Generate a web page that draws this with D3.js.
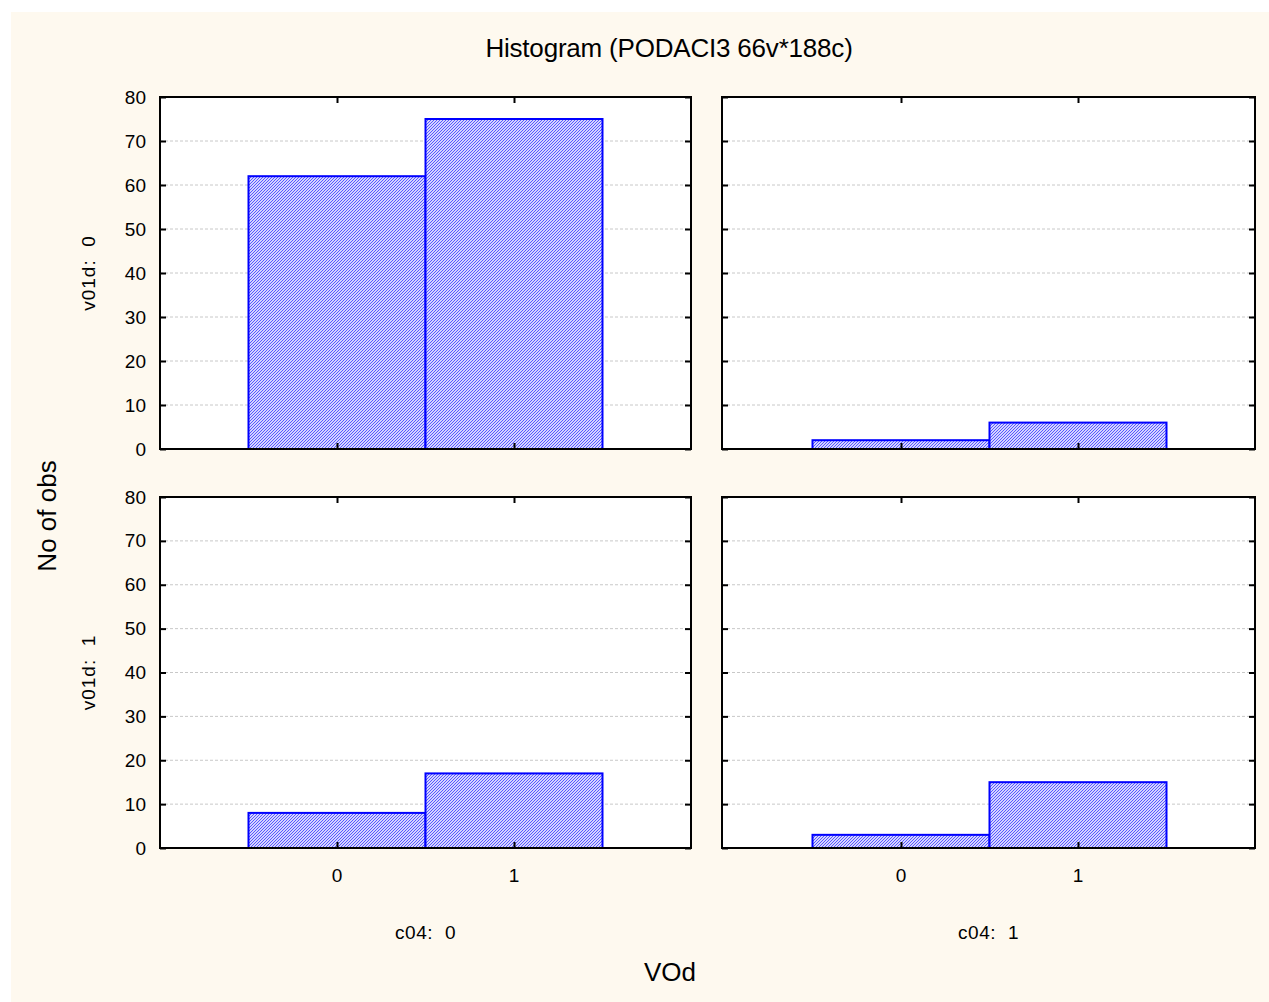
<html>
<head>
<script src="https://cdn.jsdelivr.net/npm/d3@7"></script>
<style>
  body { margin: 0; background: #fff; }
  text { font-family: "Liberation Sans", Arial, sans-serif; fill: #000; white-space: pre; }
</style>
</head>
<body>
<div id="chart"></div>
<script type="text/javascript">
// data
const categories = [0, 1];
const rowLabels = ["v01d:  0", "v01d:  1"];
const colLabels = ["c04:  0", "c04:  1"];
// counts per panel (row = v01d, col = c04), one value per VOd category
const countsRow0Col0 = [62, 75];
const countsRow0Col1 = [2, 6];
const countsRow1Col0 = [8, 17];
const countsRow1Col1 = [3, 15];
const yTicks = [0, 10, 20, 30, 40, 50, 60, 70, 80];

const panels = [
  { row: 0, col: 0, values: countsRow0Col0 },
  { row: 0, col: 1, values: countsRow0Col1 },
  { row: 1, col: 0, values: countsRow1Col0 },
  { row: 1, col: 1, values: countsRow1Col1 }
];

const W = 1269, H = 1002;
const svg = d3.select("#chart").append("svg")
  .attr("width", W).attr("height", H);

// fine pixel hatch for the bars
const defs = svg.append("defs");
const pat = defs.append("pattern")
  .attr("id", "hatch")
  .attr("patternUnits", "userSpaceOnUse")
  .attr("width", 3).attr("height", 3);
pat.append("rect").attr("width", 3).attr("height", 3).attr("fill", "#d4d4ff");
[[2, 0], [1, 1], [0, 2]].forEach(([px, py]) => {
  pat.append("rect").attr("x", px).attr("y", py).attr("width", 1).attr("height", 1)
    .attr("fill", "#5858ff");
});

svg.append("rect")
  .attr("x", 11).attr("y", 12).attr("width", W - 11).attr("height", H - 12)
  .attr("fill", "#fef9ef");

const colX = [160, 722];
const colW = [531, 533];
const rowY = [97, 497];
const rowH = [352, 351];

panels.forEach(p => {
  const x0 = colX[p.col], y0 = rowY[p.row], w = colW[p.col], h = rowH[p.row];
  const g = svg.append("g").attr("transform", `translate(${x0},${y0})`);
  const x = d3.scaleLinear().domain([-1, 2]).range([p.col === 1 ? 2 : 0, w]);
  const y = d3.scaleLinear().domain([0, 80]).range([h, 0]);

  g.append("rect").attr("width", w).attr("height", h).attr("fill", "#fff");

  // dashed grid lines
  g.selectAll("line.grid")
    .data(yTicks.filter(t => t > 0 && t < 80))
    .enter().append("line")
    .attr("class", "grid")
    .attr("x1", 0).attr("x2", w)
    .attr("y1", d => y(d)).attr("y2", d => y(d))
    .attr("stroke", "#c8c8c8").attr("stroke-width", 1)
    .attr("stroke-dasharray", "3,2");

  // bars
  g.selectAll("rect.bar")
    .data(p.values)
    .enter().append("rect")
    .attr("class", "bar")
    .attr("x", (d, i) => x(categories[i] - 0.5))
    .attr("width", (d, i) => x(categories[i] + 0.5) - x(categories[i] - 0.5))
    .attr("y", d => y(d))
    .attr("height", d => h - y(d))
    .attr("fill", "url(#hatch)")
    .attr("stroke", "#0000ff").attr("stroke-width", 2);

  // inward ticks on all sides
  const left = d3.axisLeft(y).tickValues(yTicks).tickSize(-6).tickPadding(14)
    .tickFormat(p.col === 0 ? d3.format("d") : "");
  const right = d3.axisRight(y).tickValues(yTicks).tickSize(-6).tickFormat("");
  const bottom = d3.axisBottom(x).tickValues(categories).tickSize(-6).tickFormat("");
  const top = d3.axisTop(x).tickValues(categories).tickSize(-6).tickFormat("");

  const gl = g.append("g").call(left);
  gl.selectAll("text").style("font-size", "19px")
    .style("font-family", '"Liberation Sans", Arial, sans-serif');
  g.append("g").attr("transform", `translate(${w},0)`).call(right);
  g.append("g").attr("transform", `translate(0,${h})`).call(bottom);
  g.append("g").call(top);
  g.selectAll(".domain").remove();
  g.selectAll(".tick line").attr("stroke", "#000").attr("stroke-width", 2);

  // frame
  g.append("rect").attr("width", w).attr("height", h)
    .attr("fill", "none").attr("stroke", "#000").attr("stroke-width", 2);

  // category labels under bottom panels
  if (p.row === 1) {
    g.selectAll("text.cat")
      .data(categories)
      .enter().append("text")
      .attr("class", "cat")
      .attr("x", d => x(d)).attr("y", h + 34)
      .attr("text-anchor", "middle")
      .style("font-size", "19px")
      .text(d => d);
    g.append("text")
      .attr("x", w / 2).attr("y", h + 91)
      .attr("text-anchor", "middle")
      .style("font-size", "19px")
      .style("letter-spacing", "0.6px")
      .text(colLabels[p.col]);
  }
  if (p.col === 0) {
    g.append("text")
      .attr("transform", `translate(-65,${h / 2}) rotate(-90)`)
      .attr("text-anchor", "middle")
      .style("font-size", "19px")
      .style("letter-spacing", "1px")
      .text(rowLabels[p.row]);
  }
});

svg.append("text")
  .attr("x", 669).attr("y", 57)
  .attr("text-anchor", "middle")
  .style("font-size", "26px")
  .style("letter-spacing", "-0.2px")
  .text("Histogram (PODACI3 66v*188c)");

svg.append("text")
  .attr("transform", "translate(56,516) rotate(-90)")
  .attr("text-anchor", "middle")
  .style("font-size", "26px")
  .text("No of obs");

svg.append("text")
  .attr("x", 670).attr("y", 981)
  .attr("text-anchor", "middle")
  .style("font-size", "26px")
  .text("VOd");
</script>
</body>
</html>
